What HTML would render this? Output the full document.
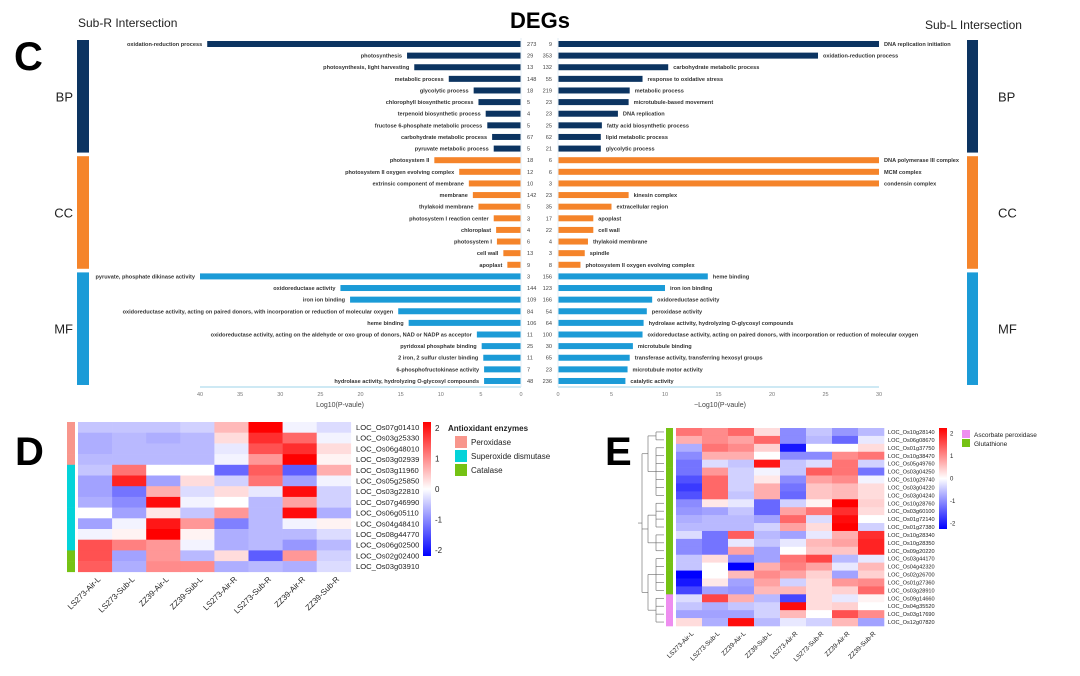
<!DOCTYPE html>
<html><head><meta charset="utf-8">
<style>
html,body{margin:0;padding:0;background:#fff;}
body{width:1080px;height:671px;overflow:hidden;font-family:"Liberation Sans",sans-serif;}
svg text{font-family:"Liberation Sans",sans-serif;}
</style></head>
<body>
<svg id="root" width="1080" height="671" viewBox="0 0 1080 671" xmlns="http://www.w3.org/2000/svg">
<text x="14" y="70" font-size="40" font-weight="bold">C</text>
<text x="15" y="465" font-size="40" font-weight="bold">D</text>
<text x="605" y="465" font-size="40" font-weight="bold">E</text>
<text x="78" y="27" font-size="12" fill="#222">Sub-R  Intersection</text>
<text x="540" y="28" font-size="22" font-weight="bold" text-anchor="middle">DEGs</text>
<text x="925" y="29" font-size="12" fill="#222">Sub-L  Intersection</text>
<g id="gC"></g>
<g id="gD"></g>
<g id="gE"></g>
</svg>
<script>
// ---------- Panel C data ----------
const leftTerms=["oxidation-reduction process","photosynthesis","photosynthesis, light harvesting","metabolic process","glycolytic process","chlorophyll biosynthetic process","terpenoid biosynthetic process","fructose 6-phosphate metabolic process","carbohydrate metabolic process","pyruvate metabolic process","photosystem II","photosystem II oxygen evolving complex","extrinsic component of membrane","membrane","thylakoid membrane","photosystem I reaction center","chloroplast","photosystem I","cell wall","apoplast","pyruvate, phosphate dikinase activity","oxidoreductase activity","iron ion binding","oxidoreductase activity, acting on paired donors, with incorporation or reduction of molecular oxygen","heme binding","oxidoreductase activity, acting on the aldehyde or oxo group of donors, NAD or NADP as acceptor","pyridoxal phosphate binding","2 iron, 2 sulfur cluster binding","6-phosphofructokinase activity","hydrolase activity, hydrolyzing O-glycosyl compounds"];
const leftValues=[39.1,14.2,13.3,9.0,5.9,5.3,4.4,4.2,3.6,3.4,10.8,7.7,6.5,6.0,5.3,3.4,3.1,3.0,2.2,1.7,40,22.5,21.3,15.3,14.0,5.5,4.9,4.7,4.6,4.6];
const leftCounts=[273,29,13,148,18,5,4,5,67,5,18,12,10,142,5,3,4,6,13,9,3,144,109,84,106,11,25,11,7,48];
const rightTerms=["DNA replication initiation","oxidation-reduction process","carbohydrate metabolic process","response to oxidative stress","metabolic process","microtubule-based movement","DNA replication","fatty acid biosynthetic process","lipid metabolic process","glycolytic process","DNA polymerase III complex","MCM complex","condensin complex","kinesin complex","extracellular region","apoplast","cell wall","thylakoid membrane","spindle","photosystem II oxygen evolving complex","heme binding","iron ion binding","oxidoreductase activity","peroxidase activity","hydrolase activity, hydrolyzing O-glycosyl compounds","oxidoreductase activity, acting on paired donors, with incorporation or reduction of molecular oxygen","microtubule binding","transferase activity, transferring hexosyl groups","microtubule motor activity","catalytic activity"];
const rightValues=[30,24.3,10.3,7.9,6.7,6.6,5.6,4.1,4.0,4.0,30,30,30,6.6,5.0,3.3,3.3,2.8,2.5,2.1,14.0,10.0,8.8,8.3,8.0,7.9,7.0,6.7,6.5,6.3];
const rightCounts=[9,353,132,55,219,23,23,25,62,21,6,6,3,23,35,17,22,4,3,8,156,123,166,54,64,100,30,65,23,236];
const categories=["BP","CC","MF"];
const categorySizes=[10,10,10];
const leftTicks=[40,35,30,25,20,15,10,5,0];
const rightTicks=[0,5,10,15,20,25,30];

// ---------- Panel D data ----------
const dSamples=["LS273-Air-L","LS273-Sub-L","ZZ39-Air-L","ZZ39-Sub-L","LS273-Air-R","LS273-Sub-R","ZZ39-Air-R","ZZ39-Sub-R"];
const dGenes=["LOC_Os07g01410","LOC_Os03g25330","LOC_Os06g48010","LOC_Os03g02939","LOC_Os03g11960","LOC_Os05g25850","LOC_Os03g22810","LOC_Os07g46990","LOC_Os06g05110","LOC_Os04g48410","LOC_Os08g44770","LOC_Os06g02500","LOC_Os02g02400","LOC_Os03g03910"];
const dGroups=[0,0,0,0,1,1,1,1,1,1,1,1,2,2];
const dGroupNames=["Peroxidase","Superoxide dismutase","Catalase"];
const dValues=[
[-0.5,-0.5,-0.5,-0.4,0.6,2.2,-0.1,-0.3],
[-0.7,-0.6,-0.7,-0.6,0.3,1.8,1.3,-0.1],
[-0.7,-0.6,-0.6,-0.6,-0.2,1.5,1.8,0.3],
[-0.6,-0.6,-0.6,-0.6,-0.1,0.9,2.2,0.1],
[-0.5,1.2,0,0,-1.3,1.4,-1.4,0.7],
[-0.8,1.9,-0.8,0.3,-0.4,1.2,-0.8,-0.1],
[-0.8,-1.2,0.7,-0.3,0.3,-0.2,2.1,-0.4],
[-0.7,-1.0,2.1,-0.1,0,-0.6,0.8,-0.4],
[0,-0.8,0.2,-0.5,0.9,-0.6,2.1,-0.7],
[-0.8,-0.1,2.0,0.9,-1.1,-0.6,-0.1,0.1],
[-0.1,0.1,2.2,0.1,-0.7,-0.6,-0.6,-0.3],
[1.5,1.1,0.9,-0.1,-0.7,-0.6,-0.9,-0.6],
[1.5,-0.8,0.9,-0.6,0.3,-1.4,0.9,-0.4],
[1.4,-0.7,1.0,1.0,-0.7,-0.6,-0.7,-0.3]];
const colorTicks=[2,1,0,-1,-2];

// ---------- Panel E data ----------
const eGenes=["LOC_Os10g28140","LOC_Os06g08670","LOC_Os01g37750","LOC_Os10g38470","LOC_Os05g49760","LOC_Os03g04250","LOC_Os10g29740","LOC_Os03g04220","LOC_Os03g04240","LOC_Os10g28760","LOC_Os03g60100","LOC_Os01g72140","LOC_Os01g27380","LOC_Os10g28340","LOC_Os10g28350","LOC_Os09g20220","LOC_Os03g44170","LOC_Os04g42320","LOC_Os02g26700","LOC_Os01g27360","LOC_Os03g28910","LOC_Os09g14660","LOC_Os04g35520","LOC_Os03g17690","LOC_Os12g07820"];
const eGroups=[1,1,1,1,1,1,1,1,1,1,1,1,1,1,1,1,1,1,1,1,1,0,0,0,0];
const eGroupNames=["Ascorbate peroxidase","Glutathione"];
const eValues=[
[1.2,1.0,1.3,0.3,-1.0,-0.5,-0.9,-0.6],
[0.7,1.0,0.8,1.3,-1.0,-0.6,-1.3,-0.2],
[-0.7,1.2,1.0,0.4,-2.0,0,0,0.3],
[-1.0,0.7,0.7,0,-1.0,-1.0,1.0,1.2],
[-1.2,-0.3,-0.5,2.0,-0.5,-0.3,1.2,-0.4],
[-1.2,0.9,-0.4,-0.1,-0.5,1.4,1.2,-1.2],
[-1.5,1.3,-0.4,0.2,-1.0,0.8,1.0,-0.1],
[-1.7,1.3,-0.4,0.7,-1.2,0.5,0.6,0.3],
[-1.5,1.3,-0.5,0.7,-1.3,0.5,0.6,0.3],
[-1.0,0.2,-0.2,-1.3,-0.4,0.1,2.2,0.4],
[-0.9,-0.8,-0.5,-1.3,0.8,1.2,1.8,0.3],
[-0.7,-0.6,-0.6,-0.8,1.3,-0.3,2.1,0],
[-0.6,-0.6,-0.6,-0.4,0.8,0.3,2.2,-0.4],
[-0.3,-1.2,1.4,-0.6,-0.8,-0.2,0.7,1.8],
[-1.0,-1.2,-0.2,-0.5,-0.2,0.6,0.8,1.9],
[-1.0,-1.2,0.8,-0.8,0,0.5,0.5,1.9],
[-0.5,0.3,-1.0,-0.8,1.2,1.6,-0.6,-0.2],
[-0.5,0,-2.2,0.7,1.1,0.8,-0.2,0.6],
[-2.2,0,0.6,1.0,0.8,0.4,-0.8,0.4],
[-2.0,0.2,-0.8,0.8,-0.4,0.3,0.9,1.0],
[-1.6,-0.8,-0.9,0.6,0.6,0.3,0.4,1.3],
[-0.3,1.6,0.7,-0.6,-1.6,0.3,-0.2,0.1],
[-0.5,-0.7,-0.5,-0.4,2.1,0.3,0.4,0],
[-0.8,-0.8,-0.8,-0.4,0.6,0,1.5,1.0],
[0.3,-0.7,2.1,-0.6,-0.2,-0.4,0.6,-0.8]];

const NS="http://www.w3.org/2000/svg";
function mk(tag,attrs,parent,text){const e=document.createElementNS(NS,tag);for(const k in attrs)e.setAttribute(k,attrs[k]);if(text!==undefined)e.textContent=text;parent.appendChild(e);return e;}
const catColors=["#0c3461","#f5842a","#1b9bd7"];

// ---- Panel C ----
const gC=document.getElementById('gC');
const L0=521,Lscale=321/40,R0=558,Rscale=321/30;
const xL=v=>L0-v*Lscale, xR=v=>R0+v*Rscale;
const yRow=i=>44+i*11.62;
const catOf=i=>{let s=0;for(let c=0;c<categorySizes.length;c++){s+=categorySizes[c];if(i<s)return c;}return 2;};
for(let i=0;i<leftTerms.length;i++){
  const c=catColors[catOf(i)],y=yRow(i);
  let r=mk('rect',{x:xL(leftValues[i]),y:y-3,width:L0-xL(leftValues[i]),height:6,fill:c},gC);
  
  
  let t=mk('text',{x:xL(leftValues[i])-5,y:y+2,'font-size':5.6,'text-anchor':'end',fill:'#333','font-weight':'bold'},gC,leftTerms[i]);
  
  
  let n=mk('text',{x:527,y:y+2,'font-size':5.6,fill:'#444'},gC,leftCounts[i]);
  
  
  let n2=mk('text',{x:552,y:y+2,'font-size':5.6,'text-anchor':'end',fill:'#444'},gC,rightCounts[i]);
  
  
  let r2=mk('rect',{x:R0,y:y-3,width:rightValues[i]*Rscale,height:6,fill:c},gC);
  
  
  let t2=mk('text',{x:xR(rightValues[i])+5,y:y+2,'font-size':5.6,fill:'#333','font-weight':'bold'},gC,rightTerms[i]);
  
  
}
// category side bars
let start=0;
for(let c=0;c<categories.length;c++){
  const y1=yRow(start)-4,y2=yRow(start+categorySizes[c]-1)+4;
  let b=mk('rect',{x:77,y:y1,width:12,height:y2-y1,fill:catColors[c]},gC);
  
  
  let b2=mk('rect',{x:967,y:y1,width:11,height:y2-y1,fill:catColors[c]},gC);
  
  
  let t=mk('text',{x:73,y:(y1+y2)/2+5,'font-size':13,'text-anchor':'end',fill:'#222'},gC,categories[c]);
  
  
  let t2=mk('text',{x:998,y:(y1+y2)/2+5,'font-size':13,fill:'#222'},gC,categories[c]);
  
  
  start+=categorySizes[c];
}
// axes
const ay=387;
let ax1=mk('line',{x1:xL(40),x2:L0,y1:ay,y2:ay,stroke:'#9cd3e8','stroke-width':1},gC);

let ax2=mk('line',{x1:R0,x2:xR(30),y1:ay,y2:ay,stroke:'#9cd3e8','stroke-width':1},gC);

let vl=mk('line',{x1:L0,x2:L0,y1:38,y2:ay,stroke:'#e3eef4','stroke-width':1},gC);

let vr=mk('line',{x1:R0,x2:R0,y1:38,y2:ay,stroke:'#e3eef4','stroke-width':1},gC);

leftTicks.forEach(v=>{let t=mk('text',{x:xL(v),y:ay+9,'font-size':5.5,'text-anchor':'middle',fill:'#777'},gC,v);
  });
rightTicks.forEach(v=>{let t=mk('text',{x:xR(v),y:ay+9,'font-size':5.5,'text-anchor':'middle',fill:'#777'},gC,v);
  });
let lt=mk('text',{x:340,y:407,'font-size':7,'text-anchor':'middle',fill:'#444'},gC,'Log10(P-vaule)');

let rt=mk('text',{x:720,y:407,'font-size':7,'text-anchor':'middle',fill:'#444'},gC,'\u2212Log10(P-vaule)');


// ---- color scale ----
function col(v){const t=Math.max(-1,Math.min(1,v/2.2));let r,g,b;
 if(t>=0){r=255;g=Math.round(255*(1-t));b=g;}else{b=255;r=Math.round(255*(1+t));g=r;}
 return `rgb(${r},${g},${b})`;}
function gradient(id,parent){const d=mk('defs',{},parent);const lg=mk('linearGradient',{id:id,x1:0,y1:0,x2:0,y2:1},d);
 for(let k=0;k<=10;k++){mk('stop',{offset:k/10,'stop-color':col(2.2-4.4*k/10)},lg);} }

// ---- Panel D ----
const gD=document.getElementById('gD');
const dx0=78,dcw=34.1,dy0=422,drh=10.7;
const dAnnColors=["#f8968c","#04d3d9","#75c214"];
dValues.forEach((row,i)=>row.forEach((v,j)=>{
  let r=mk('rect',{x:dx0+j*dcw,y:dy0+i*drh,width:dcw+0.3,height:drh+0.3,fill:col(v)},gD);
  }));
dGenes.forEach((g,i)=>{
  let a=mk('rect',{x:67,y:dy0+i*drh,width:8,height:drh+0.3,fill:dAnnColors[dGroups[i]]},gD);
  
  let t=mk('text',{x:356,y:dy0+i*drh+8,'font-size':7.6,fill:'#222'},gD,g);
  });
dSamples.forEach((s,j)=>{const cx=dx0+j*dcw+dcw/2+6,cy=dy0+14*drh+8;
  let t=mk('text',{x:cx,y:cy,'font-size':8,'text-anchor':'end',transform:`rotate(-45 ${cx} ${cy})`,fill:'#222'},gD,s);
  });
gradient('gradD',gD);
let cbD=mk('rect',{x:423,y:422,width:8,height:134,fill:'url(#gradD)'},gD);

colorTicks.forEach(v=>{let t=mk('text',{x:435,y:489-v*30.5+3,'font-size':8,fill:'#222'},gD,v);
  });
let dlt=mk('text',{x:448,y:431,'font-size':8,'font-weight':'bold',fill:'#222'},gD,'Antioxidant enzymes');

dGroupNames.forEach((n,k)=>{
  let s=mk('rect',{x:455,y:436+k*14,width:12,height:12,fill:dAnnColors[k]},gD);
  
  let t=mk('text',{x:471,y:445+k*14,'font-size':8,fill:'#222'},gD,n);
  });

// ---- Panel E ----
const gE=document.getElementById('gE');
const ex0=676,ecw=26,ey0=428,erh=7.92;
const eAnnColors=["#ee8ef0","#75c214"];
eValues.forEach((row,i)=>row.forEach((v,j)=>{
  let r=mk('rect',{x:ex0+j*ecw,y:ey0+i*erh,width:ecw+0.3,height:erh+0.3,fill:col(v)},gE);
  }));
eGenes.forEach((g,i)=>{
  let a=mk('rect',{x:666,y:ey0+i*erh,width:7,height:erh+0.3,fill:eAnnColors[eGroups[i]]},gE);
  
  let t=mk('text',{x:888,y:ey0+i*erh+6,'font-size':5.6,fill:'#222'},gE,g);
  });
dSamples.forEach((s,j)=>{const cx=ex0+j*ecw+ecw/2+5,cy=ey0+25*erh+8;
  let t=mk('text',{x:cx,y:cy,'font-size':6.5,'text-anchor':'end',transform:`rotate(-45 ${cx} ${cy})`,fill:'#222'},gE,s);
  });
// dendrogram (simple structural tree)
const yE=i=>ey0+i*erh+erh/2;
const dend=mk('g',{stroke:'#666','stroke-width':0.6,fill:'none'},gE);

const clusters=[[0,1],[2,8],[9,12],[13,15],[16,20],[21,24]];
let mids=[];
clusters.forEach(([a,b])=>{const m=(yE(a)+yE(b))/2;mids.push(m);
  for(let i=a;i<=b;i++)mk('line',{x1:656,x2:664,y1:yE(i),y2:yE(i)},dend);
  mk('line',{x1:656,x2:656,y1:yE(a),y2:yE(b)},dend);
  mk('line',{x1:648,x2:656,y1:m,y2:m},dend);});
mk('line',{x1:648,x2:648,y1:mids[0],y2:mids[1]},dend);
mk('line',{x1:648,x2:648,y1:mids[2],y2:mids[3]},dend);
mk('line',{x1:648,x2:648,y1:mids[4],y2:mids[5]},dend);
const m01=(mids[0]+mids[1])/2,m23=(mids[2]+mids[3])/2,m45=(mids[4]+mids[5])/2;
[m01,m23,m45].forEach(m=>mk('line',{x1:642,x2:648,y1:m,y2:m},dend));
mk('line',{x1:642,x2:642,y1:m01,y2:m45},dend);
mk('line',{x1:638,x2:642,y1:(m01+m45)/2,y2:(m01+m45)/2},dend);
gradient('gradE',gE);
let cbE=mk('rect',{x:939,y:428,width:8,height:101,fill:'url(#gradE)'},gE);

colorTicks.forEach(v=>{let t=mk('text',{x:950,y:478.5-v*22.5+2,'font-size':6,fill:'#222'},gE,v);
  });
eGroupNames.forEach((n,k)=>{
  let s=mk('rect',{x:962,y:430+k*9,width:8,height:8,fill:eAnnColors[k]},gE);
  
  let t=mk('text',{x:974,y:437+k*9,'font-size':6.5,fill:'#222'},gE,n);
  });
</script>
</body></html>
